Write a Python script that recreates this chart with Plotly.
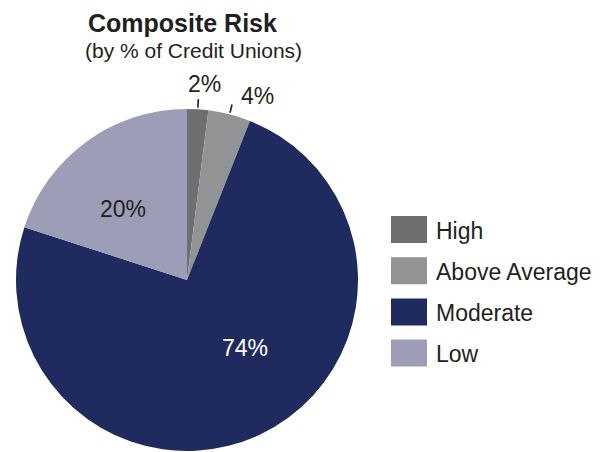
import math
import plotly.graph_objects as go

categories = ["High", "Above Average", "Moderate", "Low"]
values = [2, 4, 74, 20]
colors = ["#6e6f70", "#929394", "#1f2a5e", "#9d9db8"]
text_colors = ["#231f20", "#231f20", "#ffffff", "#231f20"]
positions = ["outside", "outside", "inside", "inside"]

W, H = 605, 452
CX, CY, R = 187, 280, 171

fig = go.Figure()
fig.add_trace(go.Pie(
    labels=categories, values=values, sort=False, direction="clockwise",
    rotation=0, marker=dict(colors=colors, line=dict(width=0)),
    textinfo="none", hoverinfo="label+percent", showlegend=False,
    domain=dict(x=[(CX - R) / W, (CX + R) / W], y=[1 - (CY + R) / H, 1 - (CY - R) / H]),
))

def px(x):
    return x / W

def py(y):
    return 1 - y / H

shapes = []
annotations = []
total = sum(values)
cum = 0
# label placement: (angle shift in rad, radial factor) for inside labels
inside_adj = {2: (-0.267, 0.525), 3: (-0.105, 0.56)}
for i, v in enumerate(values):
    mid = (cum + v / 2) / total * 2 * math.pi
    cum += v
    s, c = math.sin(mid), math.cos(mid)
    label = f"{v}%"
    if positions[i] == "outside":
        r1, r2 = R * 1.01, R * 1.06
        shapes.append(dict(type="line", xref="paper", yref="paper",
                           x0=px(CX + r1 * s), y0=py(CY - r1 * c),
                           x1=px(CX + r2 * s), y1=py(CY - r2 * c),
                           line=dict(color="#231f20", width=1.6)))
        ta = mid * 1.45
        rt = R * 1.15
        annotations.append(dict(x=px(CX + rt * math.sin(ta)), y=py(CY - rt * math.cos(ta)),
                                xref="paper", yref="paper",
                                text=label, showarrow=False, xanchor="center", yanchor="middle",
                                font=dict(size=23, color=text_colors[i])))
    else:
        da, rf = inside_adj[i]
        s, c = math.sin(mid + da), math.cos(mid + da)
        rt = R * rf
        annotations.append(dict(x=px(CX + rt * s), y=py(CY - rt * c), xref="paper", yref="paper",
                                text=label, showarrow=False, xanchor="center", yanchor="middle",
                                font=dict(size=23, color=text_colors[i])))

# custom legend
LX, LY0, DY = 391, 229.5, 41.2
for i, cat in enumerate(categories):
    yc = LY0 + i * DY
    shapes.append(dict(type="rect", xref="paper", yref="paper",
                       x0=px(LX), x1=px(LX + 36), y0=py(yc - 13.5), y1=py(yc + 13.5),
                       fillcolor=colors[i], line=dict(width=0)))
    annotations.append(dict(x=px(LX + 43), y=py(yc + 1), xref="paper", yref="paper",
                            text=cat, showarrow=False, xanchor="left", yanchor="middle",
                            font=dict(size=23, color="#231f20")))

annotations.append(dict(x=px(182), y=py(23), xref="paper", yref="paper",
                        text="<b>Composite Risk</b>", showarrow=False,
                        xanchor="center", yanchor="middle",
                        font=dict(size=25, color="#231f20")))
annotations.append(dict(x=px(194), y=py(50), xref="paper", yref="paper",
                        text="(by % of Credit Unions)", showarrow=False,
                        xanchor="center", yanchor="middle",
                        font=dict(size=21, color="#231f20")))

fig.update_layout(
    width=W, height=H, margin=dict(l=0, r=0, t=0, b=0),
    paper_bgcolor="white", plot_bgcolor="white",
    font=dict(family="Liberation Sans, Arial, sans-serif", color="#231f20"),
    shapes=shapes, annotations=annotations, showlegend=False,
)
fig.write_html("out.html")
